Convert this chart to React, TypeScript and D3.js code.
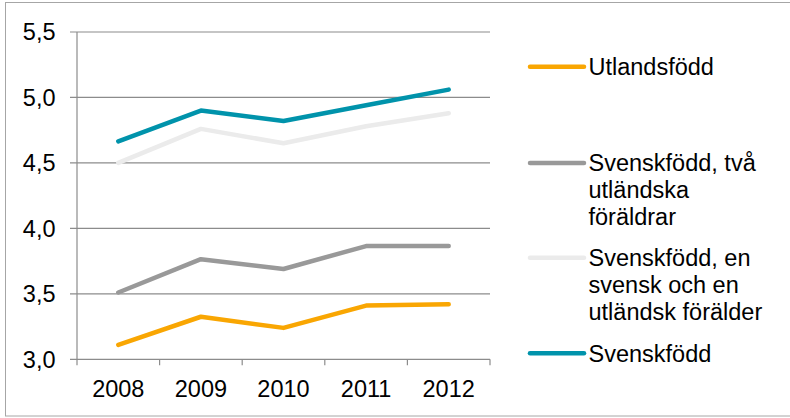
import React from "react";
import * as d3 from "d3";

const years = ["2008", "2009", "2010", "2011", "2012"];
const yTicks = [3.0, 3.5, 4.0, 4.5, 5.0, 5.5];
const utlandsfodd = [3.11, 3.325, 3.24, 3.41, 3.42];
const tvaUtlandska = [3.51, 3.765, 3.69, 3.865, 3.865];
const enSvensk = [4.5, 4.76, 4.65, 4.78, 4.88];
const svenskfodd = [4.665, 4.9, 4.82, 4.94, 5.06];

const seriesNames = [
  ["Utlandsfödd"],
  ["Svenskfödd, två", "utländska", "föräldrar"],
  ["Svenskfödd, en", "svensk och en", "utländsk förälder"],
  ["Svenskfödd"],
];
const seriesColors = ["#F9A602", "#999999", "#EBEBEB", "#0093AB"];
const seriesData = [utlandsfodd, tvaUtlandska, enSvensk, svenskfodd];
const legendY = [66.7, 163, 257.7, 353.3];
const drawOrder = [2, 3, 1, 0];

export default function App() {
  const W = 790, H = 418;
  const x0 = 77, x1 = 490, yTop = 32, yBot = 359.3;
  const x = d3.scaleBand<string>().domain(years).range([x0, x1]);
  const y = d3.scaleLinear().domain([3, 5.5]).range([yBot, yTop]);
  const line = d3
    .line<number>()
    .x((_, i) => (x(years[i]) as number) + x.bandwidth() / 2)
    .y((d) => y(d));
  const font = "Arial, 'Liberation Sans', sans-serif";
  const gridColor = "#8c8c8c";
  const catTicks = [...years.map((yr) => x(yr) as number), x1];
  const fs = 23.5;

  return (
    <div style={{ position: "absolute", left: 0, top: 0 }}>
      <svg width={W} height={H} style={{ display: "block" }} fontFamily={font}>
        <rect x={0} y={0} width={W} height={H} fill="#fff" />
        <rect x={5.5} y={2.5} width={W + 10} height={413.5} fill="none" stroke="#a6a6a6" strokeWidth={1} />
        {yTicks.map((t) => (
          <g key={t}>
            <line x1={70} x2={x1} y1={y(t)} y2={y(t)} stroke={gridColor} strokeWidth={1.2} />
            <text x={55.5} y={y(t)} dy="0.36em" textAnchor="end" fontSize={fs} fill="#000">
              {t.toFixed(1).replace(".", ",")}
            </text>
          </g>
        ))}
        <line x1={x0} x2={x0} y1={yTop} y2={yBot} stroke={gridColor} strokeWidth={1.2} />
        {catTicks.map((cx, i) => (
          <line key={i} x1={cx} x2={cx} y1={yBot} y2={yBot + 6} stroke={gridColor} strokeWidth={1.2} />
        ))}
        {years.map((yr) => (
          <text key={yr} x={(x(yr) as number) + x.bandwidth() / 2} y={396.5} textAnchor="middle" fontSize={fs} fill="#000">
            {yr}
          </text>
        ))}
        {drawOrder.map((si) => (
          <path
            key={si}
            d={line(seriesData[si]) as string}
            fill="none"
            stroke={seriesColors[si]}
            strokeWidth={4.5}
            strokeLinecap="round"
            strokeLinejoin="round"
          />
        ))}
        {seriesNames.map((lines, si) => (
          <g key={si}>
            <line x1={530} x2={584} y1={legendY[si]} y2={legendY[si]} stroke={seriesColors[si]} strokeWidth={4.5} strokeLinecap="round" />
            {lines.map((l, li) => (
              <text key={li} x={588.5} y={legendY[si] + li * 27} dy="0.36em" fontSize={fs} fill="#000">
                {l}
              </text>
            ))}
          </g>
        ))}
      </svg>
    </div>
  );
}
